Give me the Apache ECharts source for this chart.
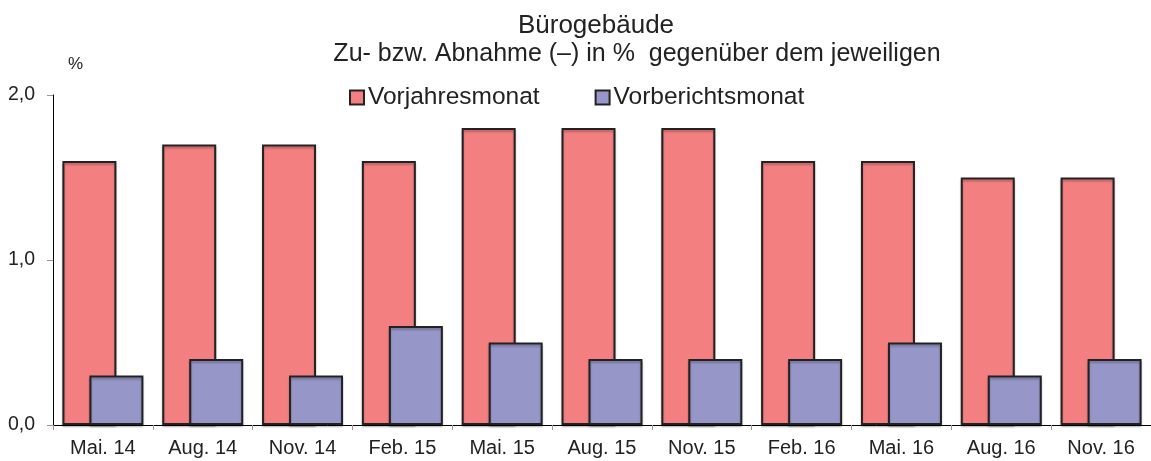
<!DOCTYPE html>
<html><head><meta charset="utf-8">
<script src="https://cdn.jsdelivr.net/npm/echarts@6/dist/echarts.min.js"></script>
<style>html,body{margin:0;padding:0;background:#fff}#c{width:1151px;height:461px}</style>
</head><body><div id="c"></div>
<script>
var categories = ['Mai. 14','Aug. 14','Nov. 14','Feb. 15','Mai. 15','Aug. 15','Nov. 15','Feb. 16','Mai. 16','Aug. 16','Nov. 16'];
var vorjahresmonat = [1.6,1.7,1.7,1.6,1.8,1.8,1.8,1.6,1.6,1.5,1.5];
var vorberichtsmonat = [0.3,0.4,0.3,0.6,0.5,0.4,0.4,0.4,0.5,0.3,0.4];
var yTicks = {min:0, max:2, interval:1};
var FONT = '"Liberation Sans", Arial, sans-serif';
var chart = echarts.init(document.getElementById('c'), null, {renderer:'canvas'});
chart.setOption({
  animation:false,
  textStyle:{fontFamily:FONT},
  title:[
    {text:'Bürogebäude', left:591, top:8, textAlign:'center', textStyle:{fontFamily:FONT, fontSize:26, fontWeight:'normal', color:'#222'}},
    {text:'Zu- bzw. Abnahme (–) in %  gegenüber dem jeweiligen', left:632, top:37, textAlign:'center', textStyle:{fontFamily:FONT, fontSize:25, fontWeight:'normal', color:'#222'}},
    {text:'%', left:63, top:51, textStyle:{fontFamily:FONT, fontSize:17, fontWeight:'normal', color:'#222'}}
  ],
  legend:{
    left:344, top:80, itemWidth:14, itemHeight:14, itemGap:55,
    icon:'rect',
    textStyle:{fontFamily:FONT, fontSize:24.5, color:'#222', padding:[0,0,0,-1]},
    data:['Vorjahresmonat','Vorberichtsmonat']
  },
  grid:{left:53, right:-9, top:95, bottom:36, containLabel:false},
  xAxis:{
    type:'category', data:categories,
    axisLine:{lineStyle:{color:'#000', width:1}},
    axisTick:{show:true, length:5, lineStyle:{color:'#999'}},
    axisLabel:{fontFamily:FONT, fontSize:20, color:'#222', margin:13}
  },
  yAxis:{
    type:'value', min:yTicks.min, max:yTicks.max, interval:yTicks.interval,
    axisLine:{show:true, lineStyle:{color:'#000', width:1}},
    axisTick:{show:true, length:6, lineStyle:{color:'#999'}},
    splitLine:{show:false},
    axisLabel:{fontFamily:FONT, fontSize:19.5, color:'#222', margin:18,
      formatter:function(v){return v.toFixed(1).replace('.',',');}}
  },
  series:[
    {name:'Vorjahresmonat', type:'bar', data:vorjahresmonat, barWidth:54, barGap:'-50%',
     itemStyle:{color:'#F47F80', borderColor:'#222', borderWidth:2, shadowColor:'rgba(0,0,0,0.25)', shadowOffsetY:2, shadowBlur:2}},
    {name:'Vorberichtsmonat', type:'bar', data:vorberichtsmonat, barWidth:54,
     itemStyle:{color:'#9696C8', borderColor:'#222', borderWidth:2, shadowColor:'rgba(0,0,0,0.25)', shadowOffsetY:2, shadowBlur:2}}
  ]
});
</script></body></html>
